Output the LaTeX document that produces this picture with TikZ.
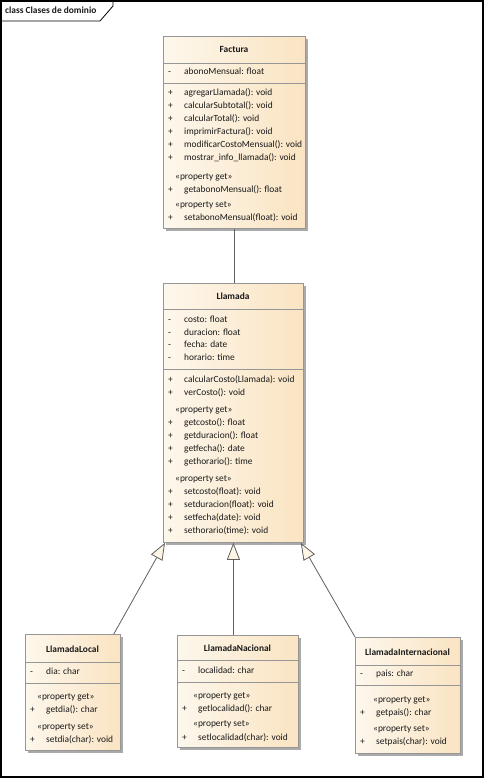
\documentclass[tikz,border=0pt]{standalone}
\usepackage{fontspec}
\setmainfont{Carlito}
\usetikzlibrary{arrows.meta,shadows}

\definecolor{umlleft}{RGB}{253,247,236}
\definecolor{umlright}{RGB}{250,228,194}
\definecolor{umlborder}{RGB}{150,150,150}
\definecolor{umlshadow}{RGB}{170,170,170}
\definecolor{umlline}{RGB}{95,95,95}
\definecolor{umltip}{RGB}{253,245,230}
\definecolor{umltext}{RGB}{25,25,25}

\tikzset{
  classbox/.style={draw=umlborder, line width=0.8pt, left color=umlleft,
    right color=umlright, anchor=north west, inner sep=0pt,
    drop shadow={shadow xshift=3pt, shadow yshift=-3pt, fill=umlshadow, opacity=1}},
  divider/.style={draw=umlborder, line width=0.8pt},
  member/.style={anchor=mid west, inner sep=0pt, text=umltext,
    font=\fontsize{9.4}{11}\selectfont},
  classname/.style={anchor=mid, inner sep=0pt, text=umltext,
    font=\bfseries\fontsize{9.4}{11}\selectfont},
  assoc/.style={draw=umlline, line width=0.8pt},
  generalize/.style={draw=umlline, line width=0.8pt,
    -{Triangle[length=17pt,width=13pt,fill=umltip]}},
}

% a member line: visibility sign and its text, 16pt further right
\newcommand\umlmember[5]{%
  \node[member] (#1s) at (#2,#3) {#4};
  \node[member] (#1) at ({#2+16},#3) {#5};}

\begin{document}
\begin{tikzpicture}[x=1pt,y=-1pt]
\useasboundingbox (0,0) rectangle (485,779);

% diagram frame with its name tab
\draw[line width=1.1pt] (1,1) rectangle (483,777);
\draw[line width=0.8pt] (1,21) -- (100,21) -- (113,6) -- (113,1);
\node[member, font=\bfseries\fontsize{9.4}{11}\selectfont] (frametitle) at (5,11) {class Clases de dominio};

% ---------- Factura ----------
\node[classbox, minimum width=142pt, minimum height=192pt] (factura) at (163,36) {};
\draw[divider] (163,63) -- (305,63);
\draw[divider] (163,83) -- (305,83);
\node[classname] (facturaname) at (234,50) {Factura};
\umlmember{fa1}{168}{72}{-}{abonoMensual: float}
\umlmember{fm1}{168}{93}{+}{agregarLlamada(): void}
\umlmember{fm2}{168}{106}{+}{calcularSubtotal(): void}
\umlmember{fm3}{168}{119}{+}{calcularTotal(): void}
\umlmember{fm4}{168}{132}{+}{imprimirFactura(): void}
\umlmember{fm5}{168}{145}{+}{modificarCostoMensual(): void}
\umlmember{fm6}{168}{158}{+}{mostrar\_info\_llamada(): void}
\node[member] (fget) at (175,177) {«property get»};
\umlmember{fg1}{168}{190}{+}{getabonoMensual(): float}
\node[member] (fset) at (175,205) {«property set»};
\umlmember{fs1}{168}{218}{+}{setabonoMensual(float): void}

% ---------- Llamada ----------
\node[classbox, minimum width=140pt, minimum height=259pt] (llamada) at (163,283) {};
\draw[divider] (163,309) -- (303,309);
\draw[divider] (163,369) -- (303,369);
\node[classname] (llamadaname) at (233,297) {Llamada};
\umlmember{la1}{168}{320}{-}{costo: float}
\umlmember{la2}{168}{333}{-}{duracion: float}
\umlmember{la3}{168}{345}{-}{fecha: date}
\umlmember{la4}{168}{358}{-}{horario: time}
\umlmember{lm1}{168}{380}{+}{calcularCosto(Llamada): void}
\umlmember{lm2}{168}{393}{+}{verCosto(): void}
\node[member] (lget) at (175,410) {«property get»};
\umlmember{lg1}{168}{423}{+}{getcosto(): float}
\umlmember{lg2}{168}{436}{+}{getduracion(): float}
\umlmember{lg3}{168}{449}{+}{getfecha(): date}
\umlmember{lg4}{168}{462}{+}{gethorario(): time}
\node[member] (lset) at (175,479) {«property set»};
\umlmember{ls1}{168}{492}{+}{setcosto(float): void}
\umlmember{ls2}{168}{505}{+}{setduracion(float): void}
\umlmember{ls3}{168}{518}{+}{setfecha(date): void}
\umlmember{ls4}{168}{531}{+}{sethorario(time): void}

% ---------- LlamadaLocal ----------
\node[classbox, minimum width=95pt, minimum height=116pt] (local) at (25,634) {};
\draw[divider] (25,662) -- (120,662);
\draw[divider] (25,683) -- (120,683);
\node[classname] (localname) at (72.5,650) {LlamadaLocal};
\umlmember{loa1}{30}{672}{-}{dia: char}
\node[member] (loget) at (37,697) {«property get»};
\umlmember{log1}{30}{710}{+}{getdia(): char}
\node[member] (loset) at (37,727) {«property set»};
\umlmember{los1}{30}{740}{+}{setdia(char): void}

% ---------- LlamadaNacional ----------
\node[classbox, minimum width=121pt, minimum height=112pt] (nacional) at (177,635) {};
\draw[divider] (177,660) -- (298,660);
\draw[divider] (177,682) -- (298,682);
\node[classname] (nacionalname) at (237.5,649) {LlamadaNacional};
\umlmember{naa1}{182}{671}{-}{localidad: char}
\node[member] (naget) at (193,696) {«property get»};
\umlmember{nag1}{182}{709}{+}{getlocalidad(): char}
\node[member] (naset) at (193,724) {«property set»};
\umlmember{nas1}{182}{738}{+}{setlocalidad(char): void}

% ---------- LlamadaInternacional ----------
\node[classbox, minimum width=105pt, minimum height=116pt] (internacional) at (355,637) {};
\draw[divider] (355,665) -- (460,665);
\draw[divider] (355,685) -- (460,685);
\node[classname] (internacionalname) at (407.5,653) {LlamadaInternacional};
\umlmember{ina1}{360}{674}{-}{pais: char}
\node[member] (inget) at (373,700) {«property get»};
\umlmember{ing1}{360}{713}{+}{getpais(): char}
\node[member] (inset) at (373,729) {«property set»};
\umlmember{ins1}{360}{742}{+}{setpais(char): void}

% ---------- relations ----------
\draw[assoc] (factura.south) -- (llamada.north -| factura.south);
\draw[generalize] ([xshift=-7pt]local.north east) -- ([xshift=2pt]llamada.south west);
\draw[generalize] (nacional.north -| llamada.south) -- (llamada.south);
\draw[generalize] (internacional.north west) -- ([xshift=-3pt]llamada.south east);

\end{tikzpicture}
\end{document}
